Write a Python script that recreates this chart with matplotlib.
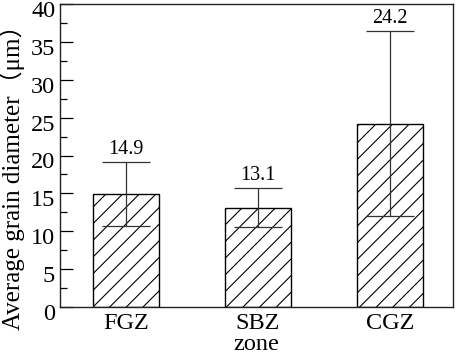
import matplotlib
matplotlib.use('Agg')
import matplotlib.pyplot as plt
import matplotlib.transforms as mtrans
import numpy as np
from matplotlib.ticker import MultipleLocator

# data
zones = ['FGZ', 'SBZ', 'CGZ']
mean_d = [14.9, 13.1, 24.2]
err_d = [4.2, 2.6, 12.2]

plt.rcParams['font.family'] = ['Liberation Serif', 'Noto Sans CJK SC']
plt.rcParams['hatch.linewidth'] = 0.8

fig = plt.figure(figsize=(4.57, 3.55), dpi=100)
ax = fig.add_axes([60 / 457, 1 - 307 / 355, 393 / 457, 303 / 355])

x = np.arange(len(zones))
ax.bar(x, mean_d, width=0.5, color='white', edgecolor='black',
       linewidth=1.0, hatch='//')
ax.errorbar(x, mean_d, yerr=err_d, fmt='none', ecolor='#333333',
            elinewidth=0.9, capsize=17, capthick=0.9)

# value labels sit on top of the upper caps
for xi, m, e in zip(x, mean_d, err_d):
    ax.text(xi, m + e + 0.4, f'{m:.1f}', ha='center', va='bottom',
            fontsize=14.5)

ax.set_xlim(-0.5, 2.48)
ax.set_ylim(0, 40)
ax.set_xticks(x)
ax.set_xticklabels(zones, fontsize=17.5)
ax.tick_params(axis='x', length=0, pad=4)

ax.yaxis.set_major_locator(MultipleLocator(5))
ax.yaxis.set_minor_locator(MultipleLocator(2.5))
ax.tick_params(axis='y', which='major', direction='in', length=9.5,
               width=0.9, labelsize=17.5, pad=3.5)
ax.tick_params(axis='y', which='minor', direction='in', length=5,
               width=0.9)

# tick labels in the reference sit a little below their ticks
shift = mtrans.ScaledTranslation(0, -0.05, fig.dpi_scale_trans)
for lab in ax.get_yticklabels():
    lab.set_transform(lab.get_transform() + shift)

ax.set_xlabel('zone', fontsize=17.5, labelpad=0.5)
ax.set_ylabel('Average grain diameter（μm）', fontsize=18)
ax.yaxis.set_label_coords(-0.088, 0.449)

for s in ax.spines.values():
    s.set_linewidth(1.0)
    s.set_color('#222222')

fig.savefig('out.png', dpi=100)
